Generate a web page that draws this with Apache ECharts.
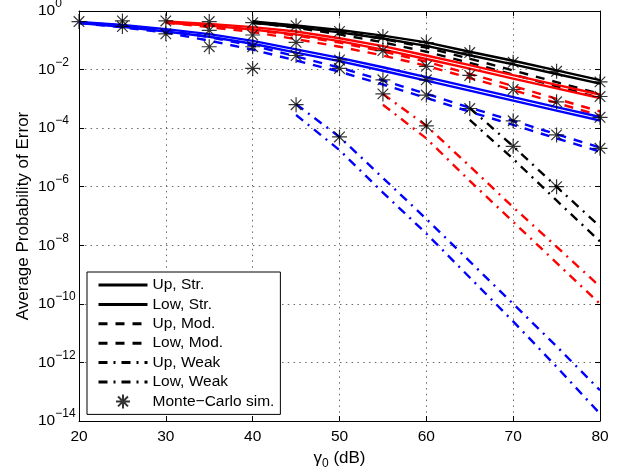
<!DOCTYPE html>
<html>
<head>
<meta charset="utf-8">
<script src="https://cdn.jsdelivr.net/npm/echarts@6/dist/echarts.min.js"></script>
<style>
  html, body { margin: 0; padding: 0; background: #fff; }
  #chart { width: 625px; height: 472px; }
</style>
</head>
<body>
<div id="chart"></div>
<script>
// SNR grid (dB)
const snrDb = [20, 25, 30, 35, 40, 45, 50, 55, 60, 65, 70, 75, 80];

// log10 of the average error probability; null = bound not plotted there
// Strong turbulence (solid)
const blackUpStr  = [null, null, null, null, -0.36, -0.49, -0.65, -0.84, -1.07, -1.39, -1.70, -2.03, -2.36];
const blackLowStr = [null, null, null, null, -0.40, -0.55, -0.73, -0.94, -1.19, -1.51, -1.82, -2.15, -2.48];
const redUpStr    = [null, null, -0.36, -0.44, -0.55, -0.70, -0.93, -1.20, -1.52, -1.85, -2.19, -2.52, -2.85];
const redLowStr   = [null, null, -0.40, -0.50, -0.63, -0.80, -1.03, -1.32, -1.64, -1.97, -2.31, -2.64, -2.97];
const blueUpStr   = [-0.37, -0.48, -0.62, -0.79, -1.02, -1.31, -1.60, -1.92, -2.26, -2.60, -2.94, -3.28, -3.62];
const blueLowStr  = [-0.41, -0.54, -0.70, -0.88, -1.12, -1.42, -1.71, -2.04, -2.38, -2.72, -3.06, -3.40, -3.74];

// Moderate turbulence (dashed)
const blackUpMod  = [null, null, null, null, -0.36, -0.51, -0.70, -0.95, -1.25, -1.63, -2.03, -2.43, -2.83];
const blackLowMod = [null, null, null, null, -0.40, -0.57, -0.80, -1.07, -1.39, -1.77, -2.17, -2.57, -2.97];
const redUpMod    = [null, null, -0.36, -0.49, -0.64, -0.84, -1.08, -1.38, -1.73, -2.15, -2.56, -3.00, -3.43];
const redLowMod   = [null, null, -0.40, -0.55, -0.72, -0.96, -1.22, -1.52, -1.87, -2.29, -2.70, -3.14, -3.57];
const blueUpMod   = [-0.37, -0.50, -0.66, -0.89, -1.18, -1.55, -1.93, -2.37, -2.83, -3.30, -3.75, -4.21, -4.66];
const blueLowMod  = [-0.41, -0.56, -0.74, -1.01, -1.32, -1.69, -2.07, -2.51, -2.97, -3.44, -3.89, -4.35, -4.80];

// Weak turbulence (dash-dot)
const blackUpWeak  = [null, null, null, null, null, null, null, null, null, -3.31, -4.62, -6.00, -7.36];
const blackLowWeak = [null, null, null, null, null, null, null, null, null, -3.72, -5.05, -6.47, -7.87];
const redUpWeak    = [null, null, null, null, null, null, null, -2.83, -3.92, -5.30, -6.70, -8.05, -9.41];
const redLowWeak   = [null, null, null, null, null, null, null, -3.20, -4.35, -5.80, -7.20, -8.60, -10.00];
const blueUpWeak   = [null, null, null, null, null, -3.18, -4.30, -5.70, -7.10, -8.55, -10.00, -11.45, -12.95];
const blueLowWeak  = [null, null, null, null, null, -3.55, -4.75, -6.20, -7.60, -9.10, -10.60, -12.15, -13.75];

// Monte-Carlo simulation points: [SNR dB, log10 Pe]
const simPoints = [
  [20, -0.36],
  [25, -0.34], [25, -0.53],
  [30, -0.34], [30, -0.78],
  [35, -0.36], [35, -0.66], [35, -1.22],
  [40, -0.40], [40, -0.82], [40, -1.22], [40, -1.96],
  [45, -0.50], [45, -1.07], [45, -1.52], [45, -3.20],
  [50, -0.70], [50, -1.67], [50, -1.96], [50, -4.30],
  [55, -0.87], [55, -1.35], [55, -2.35], [55, -2.83],
  [60, -1.08], [60, -1.89], [60, -2.35], [60, -2.87], [60, -3.92],
  [65, -1.42], [65, -2.20], [65, -3.33],
  [70, -1.75], [70, -2.68], [70, -3.75], [70, -4.62],
  [75, -2.06], [75, -3.10], [75, -4.23], [75, -6.00],
  [80, -2.42], [80, -2.92], [80, -3.63], [80, -4.69]
];

// y tick exponents (labelled as powers of ten)
const yTickExps = [0, -2, -4, -6, -8, -10, -12, -14];
const legendNames = ['Up, Str.', 'Low, Str.', 'Up, Mod.', 'Low, Mod.', 'Up, Weak', 'Low, Weak', 'Monte\u2212Carlo sim.'];

const BLACK = '#000000', RED = '#ff0000', BLUE = '#0000ff';
const DASHED = [9, 8];
const DASHDOT = [9, 6, 2, 6];

const curves = [
  // black first so the legend picks up black icons
  { name: legendNames[0], color: BLACK, dash: 'solid', vals: blackUpStr },
  { name: legendNames[1], color: BLACK, dash: 'solid', vals: blackLowStr },
  { name: legendNames[2], color: BLACK, dash: DASHED, vals: blackUpMod },
  { name: legendNames[3], color: BLACK, dash: DASHED, vals: blackLowMod },
  { name: legendNames[4], color: BLACK, dash: DASHDOT, vals: blackUpWeak },
  { name: legendNames[5], color: BLACK, dash: DASHDOT, vals: blackLowWeak },
  { name: legendNames[0], color: RED, dash: 'solid', vals: redUpStr },
  { name: legendNames[1], color: RED, dash: 'solid', vals: redLowStr },
  { name: legendNames[2], color: RED, dash: DASHED, vals: redUpMod },
  { name: legendNames[3], color: RED, dash: DASHED, vals: redLowMod },
  { name: legendNames[4], color: RED, dash: DASHDOT, vals: redUpWeak },
  { name: legendNames[5], color: RED, dash: DASHDOT, vals: redLowWeak },
  { name: legendNames[0], color: BLUE, dash: 'solid', vals: blueUpStr },
  { name: legendNames[1], color: BLUE, dash: 'solid', vals: blueLowStr },
  { name: legendNames[2], color: BLUE, dash: DASHED, vals: blueUpMod },
  { name: legendNames[3], color: BLUE, dash: DASHED, vals: blueLowMod },
  { name: legendNames[4], color: BLUE, dash: DASHDOT, vals: blueUpWeak },
  { name: legendNames[5], color: BLUE, dash: DASHDOT, vals: blueLowWeak }
];

function pairs(vals) {
  const out = [];
  snrDb.forEach((x, i) => { if (vals[i] !== null) out.push([x, vals[i]]); });
  return out;
}

const FONT = '"Liberation Sans", Arial, Helvetica, sans-serif';
const gridDots = { show: true, lineStyle: { color: '#6a6a6a', width: 1, type: [1.5, 4.3] } };

const series = curves.map(c => ({
  type: 'line',
  name: c.name,
  data: pairs(c.vals),
  symbol: 'none',
  showSymbol: false,
  lineStyle: { color: c.color, width: 2.4, type: c.dash, cap: 'butt' },
  itemStyle: { color: c.color },
  z: 2,
  animation: false
}));

series.push({
  type: 'scatter',
  name: legendNames[6],
  data: simPoints,
  symbol: 'path://M0,-10L0,10M-10,0L10,0M-7.07,-7.07L7.07,7.07M-7.07,7.07L7.07,-7.07',
  symbolSize: 15,
  itemStyle: { color: 'transparent', borderColor: '#000', borderWidth: 1.2 },
  clip: false,
  z: 5,
  animation: false
});

// legend entries: line samples only (no point glyph), plus the simulation marker
const legendData = legendNames.map((n, i) => i < 6
  ? { name: n, itemStyle: { opacity: 0 } }
  : { name: n });

const chart = echarts.init(document.getElementById('chart'), null, { renderer: 'canvas' });
chart.setOption({
  animation: false,
  backgroundColor: '#ffffff',
  textStyle: { fontFamily: FONT },
  grid: { left: 79, right: 25, top: 11, bottom: 51, containLabel: false, outerBoundsMode: 'none' },
  xAxis: [
    {
      type: 'value', min: 20, max: 80, interval: 10, position: 'bottom',
      name: '{g|\u03b3}{sub|0}{g| (dB)}',
      nameLocation: 'middle', nameGap: 25, nameMoveOverlap: false,
      nameTextStyle: {
        rich: {
          g: { fontSize: 17, fontFamily: FONT, color: '#000', lineHeight: 24 },
          sub: { fontSize: 12, fontFamily: FONT, color: '#000', lineHeight: 12, verticalAlign: 'bottom' }
        }
      },
      axisLine: { show: true, onZero: false, lineStyle: { color: '#000', width: 1 } },
      axisTick: { show: true, inside: true, length: 5, lineStyle: { color: '#000' } },
      axisLabel: { fontSize: 15.5, color: '#000', margin: 8, fontFamily: FONT },
      splitLine: gridDots
    },
    {
      type: 'value', min: 20, max: 80, interval: 10, position: 'top',
      axisLine: { show: true, onZero: false, lineStyle: { color: '#000', width: 1 } },
      axisTick: { show: true, inside: true, length: 5, lineStyle: { color: '#000' } },
      axisLabel: { show: false },
      splitLine: { show: false }
    }
  ],
  yAxis: [
    {
      type: 'value', min: -14, max: 0, interval: 2, position: 'left',
      name: 'Average Probability of Error',
      nameLocation: 'middle', nameGap: 47, nameRotate: 90, nameMoveOverlap: false,
      nameTextStyle: { fontSize: 17, color: '#000', fontFamily: FONT },
      axisLine: { show: true, onZero: false, lineStyle: { color: '#000', width: 1 } },
      axisTick: { show: true, inside: true, length: 5, lineStyle: { color: '#000' } },
      axisLabel: {
        margin: 41,
        align: 'left',
        formatter: v => {
          if (yTickExps.indexOf(v) < 0) return '';
          const e = v === 0 ? '0' : '\u2212' + String(-v);
          return '{b|10}{s|' + e + '}';
        },
        rich: {
          b: { fontSize: 15.5, fontFamily: FONT, color: '#000', lineHeight: 26 },
          s: { fontSize: 12, fontFamily: FONT, color: '#000', lineHeight: 12, verticalAlign: 'top' }
        }
      },
      splitLine: gridDots
    },
    {
      type: 'value', min: -14, max: 0, interval: 2, position: 'right',
      axisLine: { show: true, onZero: false, lineStyle: { color: '#000', width: 1 } },
      axisTick: { show: true, inside: true, length: 5, lineStyle: { color: '#000' } },
      axisLabel: { show: false },
      splitLine: { show: false }
    }
  ],
  legend: {
    data: legendData,
    orient: 'vertical',
    left: 87, top: 272,
    itemWidth: 49, itemHeight: 14, itemGap: 3.4,
    padding: [5, 6, 5, 10],
    backgroundColor: '#fff',
    borderColor: '#000', borderWidth: 1,
    selectedMode: false,
    textStyle: { fontSize: 15.5, color: '#000', fontFamily: FONT, lineHeight: 16 },
    lineStyle: { width: 3 },
    z: 10
  },
  series: series
});
</script>
</body>
</html>
